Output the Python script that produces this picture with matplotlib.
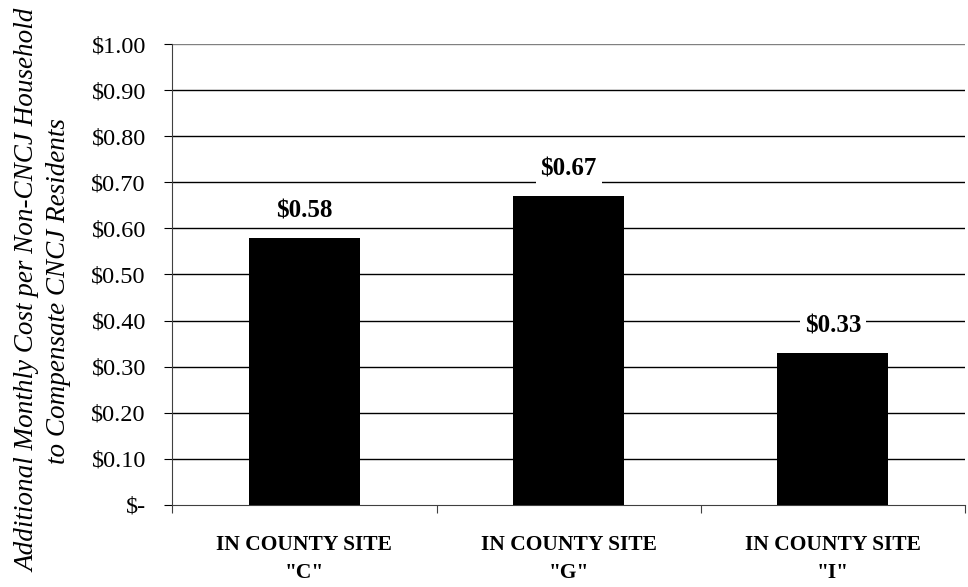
import numpy as np
import matplotlib.pyplot as plt

# datos del grafico
sitios = ['IN COUNTY SITE\n"C"', 'IN COUNTY SITE\n"G"', 'IN COUNTY SITE\n"I"']
costos = [0.58, 0.67, 0.33]
ticks_y = [0.0, 0.1, 0.2, 0.3, 0.4, 0.5, 0.6, 0.7, 0.8, 0.9, 1.0]
etiquetas_y = ['$-', '$0.10', '$0.20', '$0.30', '$0.40', '$0.50',
               '$0.60', '$0.70', '$0.80', '$0.90', '$1.00']

plt.rcParams['font.family'] = 'Liberation Serif'

fig = plt.figure(figsize=(9.68, 5.87), dpi=100)
ax = fig.add_axes([0.178, 0.14, 0.819, 0.785])

x = np.arange(len(sitios))
ax.bar(x, costos, width=0.42, color='black', zorder=3)

# lineas horizontales
for t in ticks_y[1:]:
    ax.axhline(t, color='#808080' if t == 1.0 else 'black', lw=1, zorder=1)

for xi, c in zip(x, costos):
    ax.text(xi, c + 0.058, '$%.2f' % c, ha='center', va='center',
            fontsize=18, fontweight='bold', zorder=4,
            bbox=dict(facecolor='white', edgecolor='none', pad=3.5))

ax.set_xlim(-0.5, 2.5)
ax.set_ylim(0, 1.0)
ax.set_yticks(ticks_y)
ax.set_yticklabels(etiquetas_y, fontsize=17.5)
ax.set_xticks([-0.5, 0.5, 1.5, 2.5])
ax.set_xticklabels([])
ax.set_xticks(x, minor=True)
ax.set_xticklabels(sitios, minor=True, fontsize=15.5, fontweight='bold',
                   linespacing=1.5)
ax.tick_params(axis='x', which='minor', length=0, pad=22)
ax.tick_params(axis='x', which='major', length=6, direction='out', color='#404040')
ax.tick_params(axis='y', length=6, direction='out', color='black', pad=13)

ax.spines['right'].set_visible(False)
ax.spines['top'].set_visible(False)
ax.spines['left'].set_color('#404040')
ax.spines['bottom'].set_color('#404040')

fig.text(0.045, 0.505,
         'Additional Monthly Cost per Non-CNCJ Household\nto Compensate CNCJ Residents',
         rotation=90, ha='center', va='center', fontsize=19.5,
         fontstyle='italic', linespacing=1.3)

plt.savefig('out.png', dpi=100)
